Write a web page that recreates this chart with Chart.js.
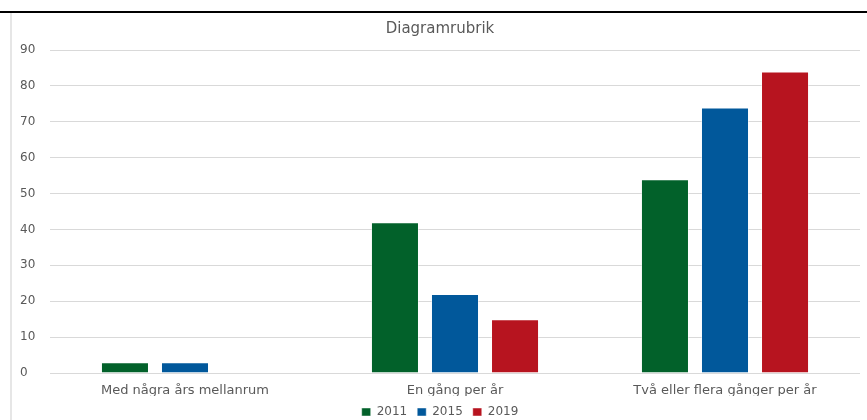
<!DOCTYPE html>
<html lang="sv">
<head>
<meta charset="utf-8">
<title>Diagramrubrik</title>
<script src="https://cdn.jsdelivr.net/npm/chart.js@4/dist/chart.umd.min.js"></script>
<style>
  html, body { margin: 0; padding: 0; background: #fff; overflow: hidden; }
  .wrap { position: relative; width: 867px; height: 420px; }
  #chart { position: absolute; left: 0; top: 0; }
  /* frame edges around the chart */
  .top-line { position: absolute; left: 0; top: 11px; width: 867px; height: 2px; background: #000; }
  .left-line { position: absolute; left: 10px; top: 13px; width: 2px; height: 407px; background: #e6e6e6; }
</style>
</head>
<body>
<div class="wrap">
  <canvas id="chart" width="867" height="420"></canvas>
  <div class="top-line"></div>
  <div class="left-line"></div>
</div>
<script>
  // kategorier och värden per år
  const categories = ["Med några års mellanrum", "En gång per år", "Två eller flera gånger per år"];
  const years = ["2011", "2015", "2019"];
  const values2011 = [3, 42, 54];
  const values2015 = [3, 22, 74];
  const values2019 = [0, 15, 84];
  const yMax = 90;
  const yStep = 10;

  const colors = ["#02612a", "#01589b", "#b7141f"];
  const textColor = "#595959";
  const fontFamily = "'DejaVu Sans', sans-serif";

  const series = [values2011, values2015, values2019];
  const datasets = years.map((year, i) => ({
    label: year,
    data: series[i],
    backgroundColor: colors[i],
    borderColor: "rgba(255,255,255,0.45)",
    borderWidth: 1,
    borderSkipped: "start",
    barPercentage: 0.8,
    categoryPercentage: 0.667
  }));

  const config = {
    type: "bar",
    data: { labels: categories, datasets },
    options: {
      responsive: false,
      animation: false,
      layout: { padding: { left: 20, right: 7, top: 0, bottom: -8 } },
      plugins: {
        title: {
          display: true,
          text: "Diagramrubrik",
          color: textColor,
          font: { family: fontFamily, size: 15, weight: "normal" },
          padding: { top: 20, bottom: 12 }
        },
        legend: {
          position: "bottom",
          labels: {
            color: textColor,
            font: { family: fontFamily, size: 12 },
            boxWidth: 9,
            boxHeight: 8,
            padding: 10
          }
        },
        tooltip: { enabled: false }
      },
      scales: {
        x: {
          grid: { display: false, drawTicks: false },
          border: { display: false },
          ticks: {
            color: textColor,
            font: { family: fontFamily, size: 13 },
            padding: 10,
            maxRotation: 0
          },
          afterFit: (scale) => { scale.height = 23; }
        },
        y: {
          min: 0,
          max: yMax,
          grid: { color: "#d9d9d9", lineWidth: 1, drawTicks: false },
          border: { display: false },
          ticks: {
            stepSize: yStep,
            color: textColor,
            font: { family: fontFamily, size: 12 },
            crossAlign: "far"
          },
          afterFit: (scale) => { scale.width = 30; }
        }
      }
    }
  };

  new Chart(document.getElementById("chart"), config);
</script>
</body>
</html>
